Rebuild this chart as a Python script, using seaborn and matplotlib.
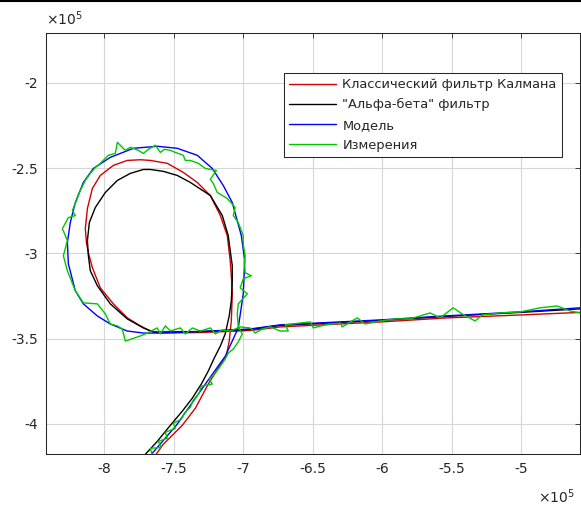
import numpy as np
import pandas as pd
import matplotlib
matplotlib.use("Agg")
import matplotlib.pyplot as plt
from matplotlib.lines import Line2D
import seaborn as sns

SCALE = 1e5

# ---- data (in units of 1e5) ----
kalman_x = [-7.655, -7.633, -7.576, -7.439, -7.345, -7.252, -7.180, -7.122, -7.101, -7.086, -7.079, -7.086,
            -7.094, -7.115, -7.165, -7.237, -7.331, -7.432, -7.547, -7.669, -7.741, -7.835, -7.935, -8.029,
            -8.086, -8.122, -8.137, -8.129, -8.115, -8.086, -8.029, -7.935, -7.835, -7.741, -7.669, -7.597,
            -7.309, -6.950, -6.734, -6.014, -5.532, -5.007, -4.576, -4.500]
kalman_y = [-4.215, -4.184, -4.119, -4.008, -3.908, -3.766, -3.672, -3.602, -3.514, -3.396, -3.237, -3.131,
            -3.043, -2.896, -2.778, -2.661, -2.584, -2.525, -2.472, -2.455, -2.451, -2.455, -2.484, -2.543,
            -2.619, -2.737, -2.855, -2.937, -2.996, -3.084, -3.202, -3.296, -3.378, -3.425, -3.455, -3.467,
            -3.464, -3.452, -3.431, -3.402, -3.378, -3.361, -3.346, -3.342]

ab_x = [-7.735, -7.712, -7.619, -7.525, -7.439, -7.367, -7.302, -7.252, -7.209, -7.165, -7.130, -7.101,
        -7.086, -7.079, -7.079, -7.094, -7.108, -7.151, -7.237, -7.381, -7.475, -7.576, -7.669, -7.719,
        -7.813, -7.906, -7.993, -8.065, -8.108, -8.122, -8.115, -8.101, -8.050, -7.957, -7.835, -7.719,
        -7.647, -7.309, -6.950, -6.734, -6.014, -5.532, -5.007, -4.576, -4.500]
ab_y = [-4.215, -4.184, -4.102, -4.008, -3.925, -3.849, -3.766, -3.690, -3.614, -3.543, -3.472, -3.366,
        -3.278, -3.161, -3.072, -2.984, -2.896, -2.778, -2.661, -2.584, -2.543, -2.519, -2.508, -2.508,
        -2.531, -2.572, -2.643, -2.731, -2.819, -2.925, -3.014, -3.102, -3.190, -3.296, -3.384, -3.437,
        -3.461, -3.458, -3.446, -3.422, -3.393, -3.369, -3.346, -3.325, -3.321]

model_x = [-7.690, -7.669, -7.482, -7.273, -7.129, -7.036, -7.000, -6.989, -7.014, -7.079, -7.144, -7.223,
           -7.331, -7.475, -7.619, -7.791, -7.957, -8.079, -8.151, -8.209, -8.245, -8.266, -8.259, -8.209,
           -8.151, -8.050, -7.957, -7.835, -7.719, -7.619, -7.309, -6.950, -6.734, -6.014, -5.532, -5.007,
           -4.576, -4.500]
model_y = [-4.210, -4.185, -4.008, -3.766, -3.602, -3.437, -3.237, -3.043, -2.896, -2.702, -2.602, -2.502,
           -2.425, -2.384, -2.372, -2.384, -2.437, -2.502, -2.584, -2.702, -2.819, -2.937, -3.061, -3.219,
           -3.296, -3.367, -3.414, -3.455, -3.467, -3.467, -3.458, -3.443, -3.419, -3.390, -3.366, -3.343,
           -3.319, -3.315]

meas_x = [-7.655, -7.669, -7.590, -7.612, -7.547, -7.561, -7.489, -7.504, -7.446, -7.424, -7.381, -7.360,
          -7.317, -7.302, -7.223, -7.245, -7.201, -7.165, -7.130, -7.108, -7.072, -7.036, -7.007, -7.036,
          -7.043, -7.036, -6.971, -7.022, -7.000, -6.942, -6.986, -6.993, -6.986, -7.000, -7.000, -7.036,
          -7.072, -7.058, -7.115, -7.187, -7.216, -7.237, -7.194, -7.273, -7.324, -7.381, -7.417, -7.432,
          -7.489, -7.525, -7.568, -7.597, -7.633, -7.683, -7.719, -7.755, -7.813, -7.849, -7.906, -7.921,
          -7.971, -8.029, -8.065, -8.101, -8.137, -8.173, -8.201, -8.230, -8.209, -8.259, -8.302, -8.266,
          -8.295, -8.266, -8.209, -8.151, -8.050, -7.993, -7.957, -7.906, -7.871, -7.849, -7.741, -7.691,
          -7.619, -7.597, -7.561, -7.525, -7.453, -7.417, -7.367, -7.309, -7.237, -7.201, -7.151, -7.094,
          -7.022, -6.950, -6.914, -6.863, -6.806, -6.734, -6.676, -6.698, -6.590, -6.518, -6.496, -6.410,
          -6.302, -6.288, -6.180, -6.122, -6.014, -5.906, -5.799, -5.655, -5.583, -5.489, -5.424, -5.331,
          -5.281, -5.151, -5.007, -4.863, -4.741, -4.648, -4.576]
meas_y = [-4.184, -4.143, -4.137, -4.102, -4.084, -4.049, -4.025, -3.996, -3.972, -3.937, -3.902, -3.861,
          -3.819, -3.778, -3.766, -3.737, -3.702, -3.661, -3.619, -3.584, -3.561, -3.519, -3.472, -3.431,
          -3.355, -3.296, -3.237, -3.202, -3.149, -3.131, -3.114, -3.055, -3.014, -2.949, -2.896, -2.819,
          -2.778, -2.731, -2.678, -2.643, -2.590, -2.566, -2.514, -2.502, -2.472, -2.455, -2.455, -2.425,
          -2.408, -2.396, -2.390, -2.408, -2.366, -2.390, -2.414, -2.396, -2.378, -2.396, -2.349, -2.414,
          -2.425, -2.472, -2.496, -2.531, -2.572, -2.631, -2.690, -2.749, -2.778, -2.790, -2.855, -2.925,
          -3.014, -3.102, -3.219, -3.290, -3.296, -3.355, -3.414, -3.425, -3.443, -3.514, -3.484, -3.467,
          -3.437, -3.472, -3.425, -3.455, -3.437, -3.472, -3.437, -3.455, -3.437, -3.472, -3.449, -3.455,
          -3.431, -3.437, -3.467, -3.443, -3.431, -3.455, -3.455, -3.419, -3.408, -3.402, -3.437, -3.419,
          -3.408, -3.431, -3.378, -3.414, -3.396, -3.384, -3.384, -3.349, -3.378, -3.319, -3.355, -3.396,
          -3.361, -3.349, -3.343, -3.319, -3.308, -3.337, -3.349]

series_names = ["Классический фильтр Калмана", "\"Альфа-бета\" фильтр", "Модель", "Измерения"]
series_colors = ["#d40000", "#000000", "#0000ff", "#00c800"]

x_ticks = [-8, -7.5, -7, -6.5, -6, -5.5, -5]
x_tick_labels = ["-8", "-7.5", "-7", "-6.5", "-6", "-5.5", "-5"]
y_ticks = [-4, -3.5, -3, -2.5, -2]
y_tick_labels = ["-4", "-3.5", "-3", "-2.5", "-2"]

# ---- build frames ----
frames = []
for name, xs, ys in zip(series_names, [kalman_x, ab_x, model_x, meas_x], [kalman_y, ab_y, model_y, meas_y]):
    frames.append(pd.DataFrame({"x": np.array(xs) * SCALE, "y": np.array(ys) * SCALE,
                                "series": name, "order": np.arange(len(xs))}))
df = pd.concat(frames, ignore_index=True)

sns.set_style("white")
plt.rcParams["font.family"] = ["DejaVu Sans"]

fig = plt.figure(figsize=(5.81, 5.07), dpi=100)
ax = fig.add_axes([46 / 581, 1 - 454 / 507, 534 / 581, 421 / 507])

sns.lineplot(data=df, x="x", y="y", hue="series", hue_order=series_names,
             palette=dict(zip(series_names, series_colors)), sort=False, estimator=None,
             units="series", linewidth=1.0, ax=ax, legend=False)

ax.set_xlim(-8.42 * SCALE, -4.576 * SCALE)
ax.set_ylim(-4.176 * SCALE, -1.708 * SCALE)
ax.set_xticks(np.array(x_ticks) * SCALE, labels=x_tick_labels)
ax.set_yticks(np.array(y_ticks) * SCALE, labels=y_tick_labels)
ax.set_xlabel("")
ax.set_ylabel("")

ax.grid(True, color="#d6d6d6", linewidth=0.8)
ax.set_axisbelow(True)
for s in ax.spines.values():
    s.set_visible(True)
    s.set_color("#262626")
    s.set_linewidth(0.75)
ax.tick_params(direction="in", length=3.5, width=0.6, colors="#262626", labelsize=10,
               top=True, right=True, pad=6)
for lab in ax.get_xticklabels() + ax.get_yticklabels():
    lab.set_color("#262626")

handles = [Line2D([0], [0], color=c, lw=1.0) for c in series_colors]
leg = ax.legend(handles, series_names, loc="upper right", bbox_to_anchor=(0.966, 0.905),
                borderaxespad=0, frameon=True, fancybox=False, framealpha=1, edgecolor="#262626",
                fontsize=9.4, handlelength=3.6, handletextpad=0.5, labelspacing=0.55,
                borderpad=0.4)
leg.get_frame().set_linewidth(0.75)

ax.text(0, 1.012, r"$\times$10$^5$", transform=ax.transAxes, ha="left", va="bottom",
        fontsize=10, color="#262626")
fig.text(575 / 581, 4 / 507, r"$\times$10$^5$", ha="right", va="baseline",
         fontsize=10, color="#262626")

fig.add_artist(Line2D([0, 1], [0.999, 0.999], transform=fig.transFigure, color="black", lw=1.5))

fig.savefig("out.png", dpi=100)
